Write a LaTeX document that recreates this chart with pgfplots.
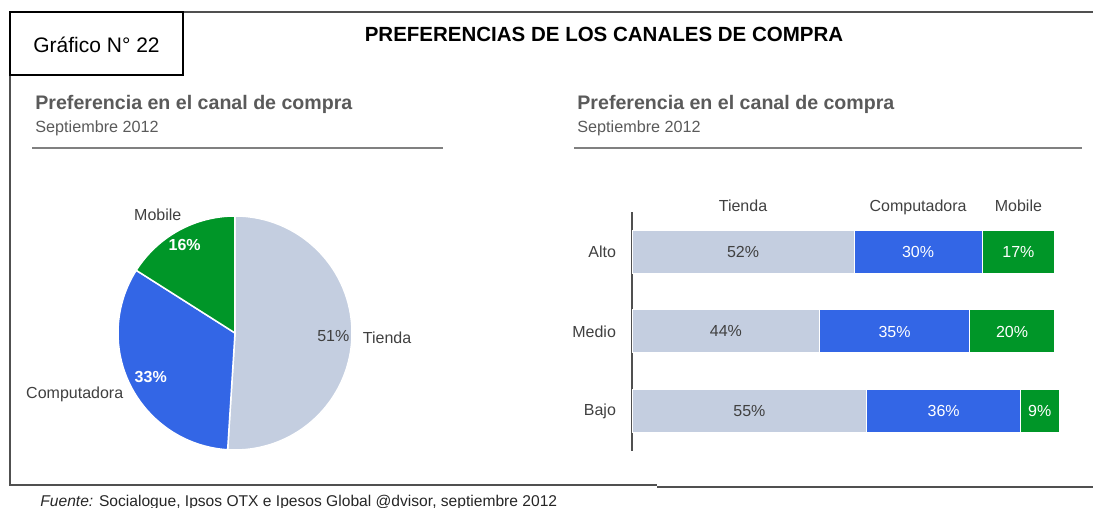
\documentclass[border=0pt]{standalone}
\usepackage{fontspec}
\setmainfont{Liberation Sans}
\usepackage{pgfplots}
\usepackage{pgfplotstable}
\pgfplotsset{compat=1.18}

\definecolor{tienda}{RGB}{196,206,224}
\definecolor{compu}{RGB}{51,102,230}
\definecolor{mobile}{RGB}{0,150,40}
\definecolor{frame}{RGB}{80,80,80}
\definecolor{txt}{RGB}{64,64,64}
\definecolor{sub}{RGB}{90,90,90}

% pie: share of each channel (%)
\pgfplotstableread{
canal valor
Tienda 51
Computadora 33
Mobile 16
}\piedata

% stacked bars by level (0 = Bajo, 1 = Medio, 2 = Alto)
\pgfplotstableread{
nivel tienda compu mobile
0 55 36 9
1 44 35 20
2 52 30 17
}\bardata

% wedge angles, clockwise from the top
\pgfplotstablegetelem{0}{valor}\of\piedata \let\vT\pgfplotsretval
\pgfplotstablegetelem{1}{valor}\of\piedata \let\vC\pgfplotsretval
\pgfplotstablegetelem{2}{valor}\of\piedata \let\vM\pgfplotsretval
\pgfmathsetmacro\aT{90-3.6*\vT}
\pgfmathsetmacro\aC{\aT-3.6*\vC}
\pgfmathsetmacro\aM{\aC-3.6*\vM}

\newcommand\fs[1]{\fontsize{#1}{#1}\selectfont}

\begin{document}
\begin{tikzpicture}
\begin{scope}[x=0.5pt,y=0.5pt]
\useasboundingbox (0,0) rectangle (1093,508);

% outer frame
\draw[frame, line width=1pt] (1093,496) -- (10,496) -- (10,23) -- (657,23);
\draw[frame, line width=1pt] (657,21) -- (1093,21);

% label box
\draw[black, line width=1pt, fill=white] (10,433) rectangle (183,496);
\node at (96.5,463) {\fs{10.5}Gráfico N° 22};

\node[font=\bfseries\fs{10.25}] at (604,474) {PREFERENCIAS DE LOS CANALES DE COMPRA};

% panel headings
\foreach \px/\ex in {35/443, 577/1082} {
  \node[anchor=base west, inner sep=0, text=sub, font=\bfseries\fs{9.8}] at (\px,398) {Preferencia en el canal de compra};
  \node[anchor=base west, inner sep=0, text=sub, font=\fs{8.1}] at (\px,375) {Septiembre 2012};
  \draw[gray, line width=1pt] (\px-3,360) -- (\ex,360);
}

% footer
\node[anchor=base west, inner sep=0, font=\fs{7.8}, text=black!85] at (40,1) {\textit{Fuente:} Socialogue, Ipsos OTX e Ipesos Global @dvisor, septiembre 2012};
\end{scope}

% ---------- pie ----------
\begin{axis}[
  at={(59pt,29pt)}, anchor=south west,
  scale only axis, width=117pt, height=117pt,
  xmin=-1, xmax=1, ymin=-1, ymax=1,
  hide axis, clip=false,
]
\fill[tienda, draw=white, line width=0.75pt] (axis cs:0,0) -- ++(90:58.5pt) arc[start angle=90, end angle=\aT, radius=58.5pt] -- cycle;
\fill[compu, draw=white, line width=0.75pt] (axis cs:0,0) -- ++(\aT:58.5pt) arc[start angle=\aT, end angle=\aC, radius=58.5pt] -- cycle;
\fill[mobile, draw=white, line width=0.75pt] (axis cs:0,0) -- ++(\aC:58.5pt) arc[start angle=\aC, end angle=\aM, radius=58.5pt] -- cycle;
\node[text=txt, font=\fs{8}] at (axis cs:-0.66,1.01) {Mobile};
\node[text=white, font=\bfseries\fs{8}] at (axis cs:-0.43,0.75) {16\%};
\node[text=white, font=\bfseries\fs{8}] at (axis cs:-0.72,-0.38) {33\%};
\node[text=txt, font=\fs{8}, anchor=base] at (axis cs:-1.37,-0.556) {Computadora};
\node[text=txt, font=\fs{8}] at (axis cs:0.84,-0.03) {51\%};
\node[text=txt, font=\fs{8}] at (axis cs:1.30,-0.04) {Tienda};
\end{axis}

% ---------- stacked bars ----------
\begin{axis}[
  at={(316pt,28.5pt)}, anchor=south west,
  scale only axis, width=213.5pt, height=119.5pt,
  xbar stacked, bar width=21.5pt,
  xmin=0, xmax=100, ymin=-0.5, ymax=2.5,
  axis y line*=left, axis x line*=bottom,
  x axis line style={draw=none},
  y axis line style={-, draw=frame, line width=1pt},
  xtick=\empty, ytick={0,1,2}, yticklabels={Bajo,Medio,Alto},
  major tick length=0pt,
  yticklabel style={font=\fs{8}, text=txt, xshift=-4.5pt},
  clip=false,
  /pgf/number format/assume math mode=true,
  nodes near coords={\pgfmathprintnumber{\rawx}\%},
]
\addplot[fill=tienda, draw=white, line width=0.5pt,
  visualization depends on={\thisrow{tienda}\as\rawx},
  nodes near coords style={anchor=center, font=\fs{8}, text=txt}]
  table[x=tienda, y=nivel] {\bardata};
\addplot[fill=compu, draw=white, line width=0.5pt,
  visualization depends on={\thisrow{compu}\as\rawx},
  nodes near coords style={anchor=center, font=\fs{8}, text=white}]
  table[x=compu, y=nivel] {\bardata};
\addplot[fill=mobile, draw=white, line width=0.5pt,
  visualization depends on={\thisrow{mobile}\as\rawx},
  nodes near coords style={anchor=center, font=\fs{8}, text=white}]
  table[x=mobile, y=nivel] {\bardata};
\node[anchor=base, text=txt, font=\fs{8}] at (axis cs:26,2.5) {Tienda};
\node[anchor=base, text=txt, font=\fs{8}] at (axis cs:67,2.5) {Computadora};
\node[anchor=base, text=txt, font=\fs{8}] at (axis cs:90.5,2.5) {Mobile};
\end{axis}
\end{tikzpicture}
\end{document}
